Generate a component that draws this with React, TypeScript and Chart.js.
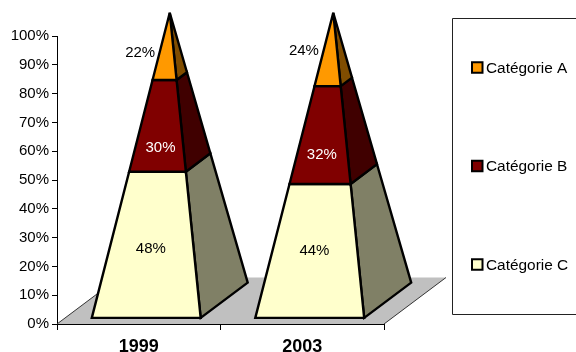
import React, { useEffect, useRef } from "react";
import { Chart, registerables } from "chart.js";

Chart.register(...registerables);

const years = ["1999", "2003"];
const categorieA = [22, 24];
const categorieB = [30, 32];
const categorieC = [48, 44];

const FONT = "'Liberation Sans', Arial, sans-serif";
const INK = "#000000";

type Pt = [number, number];
const lerp = (a: Pt, b: Pt, t: number): Pt => [a[0] + (b[0] - a[0]) * t, a[1] + (b[1] - a[1]) * t];

// Oblique projection of the plot floor, in pixels.
const DEPTH_X = 62;
const DEPTH_Y = 46.5;
const BASE_DEPTH = 0.76;

// Shift of each value label from the middle of its band's front face, keyed by dataset then year.
const labelShift: Pt[][] = [
  [[-1, 4.5], [-0.5, 0]],
  [[-0.5, 22], [-2, 19.5]],
  [[-27, 6], [-26.5, 1.5]],
];
const labelColor = ["#000000", "#FFFFFF", "#000000"];

function polygon(ctx: CanvasRenderingContext2D, pts: Pt[], fill: string) {
  ctx.beginPath();
  pts.forEach((p, i) => (i ? ctx.lineTo(p[0], p[1]) : ctx.moveTo(p[0], p[1])));
  ctx.closePath();
  ctx.fillStyle = fill;
  ctx.fill();
  ctx.stroke();
}

// Replaces the flat stacked bars with a floor and one square pyramid per category.
const pyramidPlugin = {
  id: "pyramids",
  beforeDatasetsDraw(chart: any) {
    const { ctx, scales } = chart;
    const x = scales.x;
    const y = scales.y;
    const y0 = y.getPixelForValue(0);
    const y100 = y.getPixelForValue(100);

    ctx.save();
    ctx.beginPath();
    ctx.moveTo(x.left, y0);
    ctx.lineTo(x.right, y0);
    ctx.lineTo(x.right + DEPTH_X, y0 - DEPTH_Y);
    ctx.lineTo(x.left + DEPTH_X, y0 - DEPTH_Y);
    ctx.closePath();
    ctx.fillStyle = "#C0C0C0";
    ctx.fill();
    ctx.lineWidth = 1;
    ctx.strokeStyle = "#333333";
    ctx.beginPath();
    ctx.moveTo(x.left, y0);
    ctx.lineTo(x.left + DEPTH_X, y0 - DEPTH_Y);
    ctx.moveTo(x.right, y0);
    ctx.lineTo(x.right + DEPTH_X, y0 - DEPTH_Y);
    ctx.stroke();

    ctx.strokeStyle = INK;
    ctx.lineWidth = 2.4;
    ctx.lineJoin = "miter";
    ctx.miterLimit = 3;
    const metas = chart.data.datasets.map((_: any, i: number) => chart.getDatasetMeta(i));
    years.forEach((_, j) => {
      const first = metas[0].data[j];
      const cx = first.x + DEPTH_X / 2;
      const cy = y0 - DEPTH_Y / 2;
      const hw = first.width / 2;
      const dx = (DEPTH_X * BASE_DEPTH) / 2;
      const dy = (DEPTH_Y * BASE_DEPTH) / 2;
      const apex: Pt = [cx, cy - (y0 - y100)];
      const fl: Pt = [cx - hw - dx, cy + dy];
      const fr: Pt = [cx + hw - dx, cy + dy];
      const br: Pt = [cx + hw + dx, cy - dy];
      metas.forEach((meta: any, i: number) => {
        const bar = meta.data[j];
        const t0 = (y0 - bar.base) / (y0 - y100);
        const t1 = (y0 - bar.y) / (y0 - y100);
        const ds = chart.data.datasets[i];
        polygon(ctx, [lerp(fr, apex, t0), lerp(br, apex, t0), lerp(br, apex, t1), lerp(fr, apex, t1)], ds.sideColor);
        polygon(ctx, [lerp(fl, apex, t0), lerp(fr, apex, t0), lerp(fr, apex, t1), lerp(fl, apex, t1)], ds.backgroundColor);
      });
    });

    ctx.font = `15px ${FONT}`;
    ctx.textAlign = "center";
    ctx.textBaseline = "middle";
    years.forEach((_, j) => {
      const first = metas[0].data[j];
      const cx = first.x + DEPTH_X / 2;
      const cy = y0 - DEPTH_Y / 2;
      const dx = (DEPTH_X * BASE_DEPTH) / 2;
      const dy = (DEPTH_Y * BASE_DEPTH) / 2;
      const apex: Pt = [cx, cy - (y0 - y100)];
      const front: Pt = [cx - dx, cy + dy];
      metas.forEach((meta: any, i: number) => {
        const bar = meta.data[j];
        const tMid = ((y0 - bar.base + (y0 - bar.y)) / 2) / (y0 - y100);
        const p = lerp(front, apex, tMid);
        ctx.fillStyle = labelColor[i];
        ctx.fillText(`${chart.data.datasets[i].data[j]}%`, p[0] + labelShift[i][j][0], p[1] + labelShift[i][j][1]);
      });
    });
    ctx.restore();
    return false;
  },
};

// Framed key on the right, open on its far side, with widely spaced entries.
const keyPlugin = {
  id: "categoryKey",
  afterDraw(chart: any) {
    const { ctx } = chart;
    ctx.save();
    ctx.strokeStyle = "#222222";
    ctx.lineWidth = 1;
    ctx.beginPath();
    ctx.moveTo(chart.width, 18.5);
    ctx.lineTo(452.5, 18.5);
    ctx.lineTo(452.5, 314.5);
    ctx.lineTo(chart.width, 314.5);
    ctx.stroke();

    ctx.font = `15.4px ${FONT}`;
    ctx.textAlign = "left";
    ctx.textBaseline = "middle";
    const entries = [...chart.data.datasets].reverse();
    entries.forEach((ds: any, i: number) => {
      const midY = 67.5 + i * 98.5;
      ctx.fillStyle = ds.backgroundColor;
      ctx.fillRect(472, midY - 5.25, 10.5, 10.5);
      ctx.strokeStyle = INK;
      ctx.lineWidth = 2;
      ctx.strokeRect(472, midY - 5.25, 10.5, 10.5);
      ctx.fillStyle = INK;
      ctx.fillText(ds.label, 486, midY + 1);
    });
    ctx.restore();
  },
};

export default function App() {
  const ref = useRef<HTMLCanvasElement>(null);
  useEffect(() => {
    const chart = new Chart(ref.current as HTMLCanvasElement, {
      type: "bar",
      data: {
        labels: years,
        datasets: [
          { label: "Catégorie C", data: categorieC, backgroundColor: "#FFFFCC", sideColor: "#808066" },
          { label: "Catégorie B", data: categorieB, backgroundColor: "#800000", sideColor: "#400000" },
          { label: "Catégorie A", data: categorieA, backgroundColor: "#FF9900", sideColor: "#804D00" },
        ] as any,
      },
      options: {
        animation: false,
        responsive: false,
        barPercentage: 0.667,
        categoryPercentage: 1,
        layout: { padding: { left: 0, right: 192, top: 36, bottom: 0 } },
        plugins: { legend: { display: false }, tooltip: { enabled: false } },
        scales: {
          x: {
            stacked: true,
            afterFit: (s: any) => { s.height = 28; },
            border: { color: INK, width: 1 },
            grid: { drawOnChartArea: false, drawTicks: true, tickLength: 6, color: INK, offset: true },
            ticks: { color: INK, padding: 6, font: { family: FONT, size: 18, weight: "bold" }, maxRotation: 0 },
          },
          y: {
            stacked: true,
            min: 0,
            max: 100,
            afterFit: (s: any) => { s.width = 57; },
            border: { color: INK, width: 1 },
            grid: { drawOnChartArea: false, drawTicks: true, tickLength: 5, color: INK },
            ticks: { stepSize: 10, color: INK, padding: 3, font: { family: FONT, size: 15 }, callback: (v: any) => `${v}%` },
          },
        },
      } as any,
      plugins: [pyramidPlugin, keyPlugin] as any,
    });
    return () => chart.destroy();
  }, []);
  return (
    <div style={{ position: "fixed", left: 0, top: 0, width: 576, height: 352, background: "#fff" }}>
      <canvas ref={ref} width={576} height={352} style={{ display: "block" }} />
    </div>
  );
}
